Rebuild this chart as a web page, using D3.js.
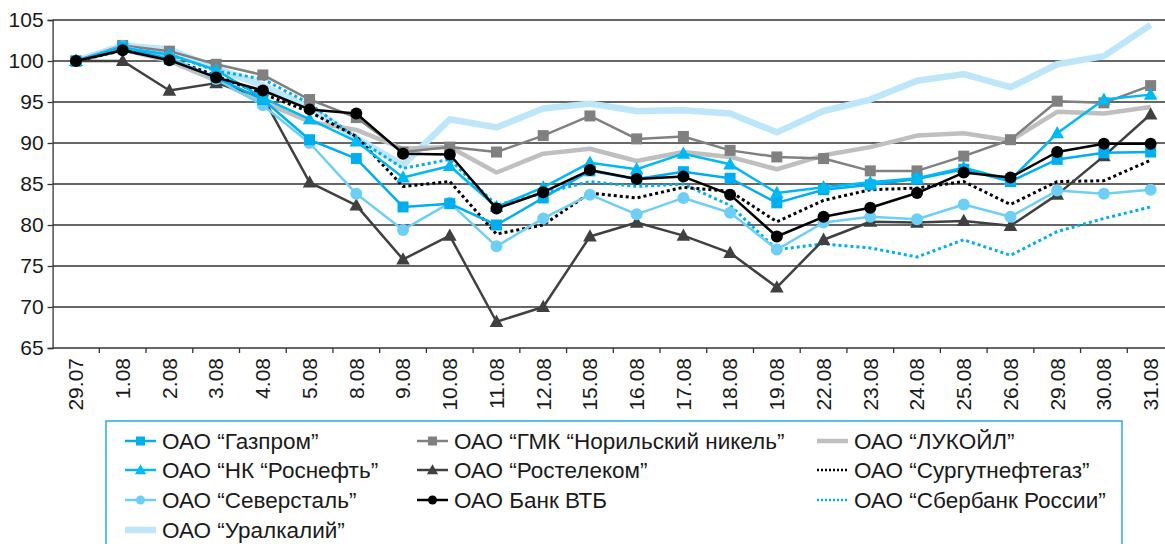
<!DOCTYPE html>
<html>
<head>
<meta charset="utf-8">
<script src="https://cdn.jsdelivr.net/npm/d3@7"></script>
<style>
  body { margin: 0; background: #fff; }
  svg { display: block; font-family: "Liberation Sans", Arial, Helvetica, sans-serif; }
</style>
</head>
<body>
<div id="chart"></div>
<script>
// dates on the x axis
const dates = ["29.07","1.08","2.08","3.08","4.08","5.08","8.08","9.08","10.08","11.08","12.08","15.08",
               "16.08","17.08","18.08","19.08","22.08","23.08","24.08","25.08","26.08","29.08","30.08","31.08"];
const yTicks = [65, 70, 75, 80, 85, 90, 95, 100, 105];

// series values, index 29.07 = 100
const gazprom    = [100,101.7,100.2,98.0,95.3,90.4,88.1,82.2,82.6,80.0,83.3,86.6,85.6,86.5,85.7,82.7,84.3,84.9,85.6,86.8,85.3,88.0,88.8,88.9];
const norilsk    = [100,101.9,101.2,99.6,98.3,95.3,93.1,88.9,89.5,88.9,90.9,93.3,90.5,90.8,89.1,88.3,88.1,86.6,86.6,88.4,90.4,95.1,94.9,97.0];
const lukoil     = [100,101.4,100.0,97.6,95.0,92.6,91.6,89.3,89.5,86.4,88.7,89.3,87.8,88.9,88.3,86.8,88.5,89.5,90.9,91.2,90.3,93.8,93.6,94.4];
const rosneft    = [100,101.6,100.8,98.9,95.5,92.9,90.2,85.8,87.2,82.2,84.6,87.6,86.8,88.7,87.4,83.9,84.6,85.2,85.7,87.0,85.5,91.2,95.3,95.9];
const rostelecom = [100,100.0,96.4,97.3,95.6,85.2,82.4,75.8,78.7,68.2,70.0,78.6,80.3,78.7,76.6,72.4,78.2,80.4,80.3,80.5,79.9,83.7,88.4,93.5];
const surgut     = [100,101.3,100.3,98.2,96.0,93.8,90.8,84.7,85.3,78.9,80.0,83.9,83.3,84.6,84.1,80.4,83.0,84.3,84.5,85.3,82.5,85.3,85.4,87.9];
const severstal  = [100,101.8,100.5,97.8,94.6,90.0,83.8,79.4,82.7,77.4,80.8,83.7,81.3,83.3,81.5,77.0,80.3,81.0,80.7,82.5,81.0,84.2,83.8,84.3];
const vtb        = [100,101.3,100.1,98.0,96.4,94.1,93.6,88.7,88.6,82.0,84.0,86.7,85.6,85.9,83.7,78.6,81.0,82.1,83.9,86.4,85.8,88.9,89.9,89.9];
const sberbank   = [100,101.5,100.8,98.8,97.8,94.8,90.6,86.9,88.0,82.4,83.9,85.3,84.7,85.0,82.4,77.0,77.7,77.2,76.1,78.2,76.3,79.2,80.8,82.2];
const uralkali   = [100,101.9,101.4,99.1,97.0,94.3,90.6,87.3,92.9,91.9,94.2,94.8,93.9,94.0,93.6,91.3,93.9,95.3,97.6,98.4,96.8,99.6,100.6,104.4];

const series = [
  {name: "ОАО “Газпром”", values: gazprom, color: "#00aeef", width: 2.5, marker: "square", dash: null},
  {name: "ОАО “ГМК “Норильский никель”", values: norilsk, color: "#808080", width: 2.5, marker: "square", dash: null},
  {name: "ОАО “ЛУКОЙЛ”", values: lukoil, color: "#bfbfbf", width: 4.5, marker: null, dash: null},
  {name: "ОАО “НК “Роснефть”", values: rosneft, color: "#00b9f2", width: 2.5, marker: "triangle", dash: null},
  {name: "ОАО “Ростелеком”", values: rostelecom, color: "#404040", width: 2.5, marker: "triangle", dash: null},
  {name: "ОАО “Сургутнефтегаз”", values: surgut, color: "#000000", width: 3, marker: null, dash: "3,3"},
  {name: "ОАО “Северсталь”", values: severstal, color: "#6dcff6", width: 2.5, marker: "circle", dash: null},
  {name: "ОАО Банк ВТБ", values: vtb, color: "#000000", width: 2.5, marker: "circle", dash: null},
  {name: "ОАО “Сбербанк России”", values: sberbank, color: "#00aeef", width: 3, marker: null, dash: "3,3"},
  {name: "ОАО “Уралкалий”", values: uralkali, color: "#bde6f9", width: 6.5, marker: null, dash: null}
];

const width = 1165, height = 544;
const plot = {left: 52.6, top: 20, bottom: 348, right: 1174};

const svg = d3.select("#chart").append("svg")
  .attr("width", width)
  .attr("height", height);

const x = d3.scaleBand().domain(dates).range([plot.left, plot.right]).padding(0);
const cx = d => x(d) + x.bandwidth() / 2;
const y = d3.scaleLinear().domain([65, 105]).range([plot.bottom, plot.top]);

// gridlines
svg.append("g")
  .selectAll("line")
  .data(yTicks.slice(1))
  .enter()
  .append("line")
  .attr("x1", plot.left).attr("x2", width)
  .attr("y1", d => y(d)).attr("y2", d => y(d))
  .attr("stroke", "#333")
  .attr("stroke-width", 1.3);

// y axis
const yAxis = svg.append("g")
  .attr("transform", "translate(" + plot.left + ",0)")
  .call(d3.axisLeft(y).tickValues(yTicks).tickSize(5).tickPadding(4));
yAxis.select(".domain").attr("stroke", "#333").attr("stroke-width", 1.3);
yAxis.selectAll(".tick line").attr("stroke", "#333").attr("stroke-width", 1.3);
yAxis.selectAll(".tick text").attr("font-size", 21).attr("fill", "#1a1a1a")
  .attr("font-family", "'Liberation Sans', Arial, sans-serif");

// x axis line + boundary ticks
svg.append("line")
  .attr("x1", plot.left).attr("x2", width)
  .attr("y1", plot.bottom).attr("y2", plot.bottom)
  .attr("stroke", "#333").attr("stroke-width", 1.3);

svg.append("g")
  .selectAll("line")
  .data(dates)
  .enter()
  .append("line")
  .attr("x1", d => x(d) + x.bandwidth()).attr("x2", d => x(d) + x.bandwidth())
  .attr("y1", plot.bottom).attr("y2", plot.bottom + 5)
  .attr("stroke", "#333").attr("stroke-width", 1.3);

svg.append("g")
  .selectAll("text")
  .data(dates)
  .enter()
  .append("text")
  .attr("transform", d => "translate(" + cx(d) + "," + (plot.bottom + 10) + ") rotate(-90)")
  .attr("text-anchor", "end")
  .attr("dy", "0.35em")
  .attr("font-size", 21)
  .attr("fill", "#1a1a1a")
  .text(d => d);

// lines, thick pale ones first so they sit underneath
const drawOrder = [9, 2, 8, 5, 4, 1, 6, 0, 3, 7];
const line = d3.line().x((v, i) => cx(dates[i])).y(v => y(v));

function drawMarker(g, type, color, px, py, size) {
  if (type === "square") {
    g.append("rect")
      .attr("x", px - size / 2).attr("y", py - size / 2)
      .attr("width", size).attr("height", size)
      .attr("fill", color);
  } else if (type === "triangle") {
    const s = size * 0.62;
    g.append("path")
      .attr("d", "M" + px + "," + (py - s * 1.05) + "L" + (px + s) + "," + (py + s * 0.75) + "L" + (px - s) + "," + (py + s * 0.75) + "Z")
      .attr("fill", color);
  } else if (type === "circle") {
    g.append("circle")
      .attr("cx", px).attr("cy", py).attr("r", size / 2)
      .attr("fill", color);
  }
}

drawOrder.forEach(k => {
  const s = series[k];
  const g = svg.append("g");
  g.append("path")
    .datum(s.values)
    .attr("d", line)
    .attr("fill", "none")
    .attr("stroke", s.color)
    .attr("stroke-width", s.width)
    .attr("stroke-linejoin", "round")
    .attr("stroke-dasharray", s.dash);
  if (s.marker) {
    s.values.forEach((v, i) => drawMarker(g, s.marker, s.color, cx(dates[i]), y(v), s.marker === "circle" ? 12 : 11));
  }
});

// legend
const legend = svg.append("g");
legend.append("rect")
  .attr("x", 106).attr("y", 421)
  .attr("width", 1016).attr("height", 140)
  .attr("fill", "none")
  .attr("stroke", "#29abe2")
  .attr("stroke-width", 1.5);

const colX = [125, 417, 817];
const rowY = [441, 470, 500, 530];
series.forEach((s, i) => {
  const col = i % 3, row = Math.floor(i / 3);
  const lx = colX[col], ly = rowY[row];
  const item = legend.append("g");
  item.append("line")
    .attr("x1", lx).attr("x2", lx + 31)
    .attr("y1", ly).attr("y2", ly)
    .attr("stroke", s.color)
    .attr("stroke-width", s.dash ? 2.5 : s.width)
    .attr("stroke-dasharray", s.dash ? "2,2" : null);
  if (s.marker) drawMarker(item, s.marker, s.color, lx + 15.5, ly, 9);
  item.append("text")
    .attr("x", lx + 37).attr("y", ly)
    .attr("dy", "0.35em")
    .attr("font-size", 22.5)
    .attr("fill", "#1a1a1a")
    .text(s.name);
});
</script>
</body>
</html>
